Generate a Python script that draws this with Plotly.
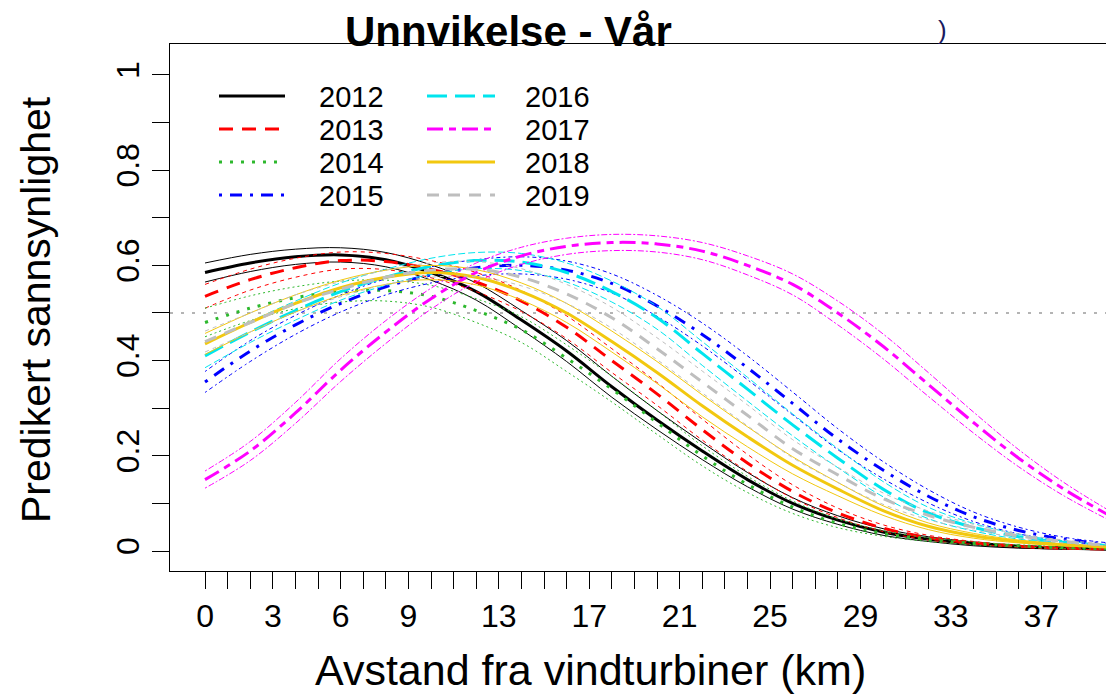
import plotly.graph_objects as go

# ---------------- data ----------------
distance_km = [0, 2, 4, 6, 8, 10, 12, 14, 16, 18, 20, 22, 24, 26, 28, 30, 32, 34, 36, 38, 40]
years = ["2012", "2013", "2014", "2015", "2016", "2017", "2018", "2019"]

pred_2012 = [.585, .605, .618, .622, .612, .585, .545, .485, .420, .345, .275, .210, .150, .100, .065, .040, .025, .015, .009, .006, .004]
upper_2012 = [.605, .623, .634, .637, .627, .601, .563, .505, .442, .367, .295, .228, .165, .112, .074, .047, .030, .019, .012, .008, .006]
lower_2012 = [.565, .587, .602, .607, .597, .569, .527, .465, .398, .323, .255, .192, .135, .088, .056, .033, .020, .011, .006, .004, .002]

pred_2013 = [.535, .570, .595, .610, .608, .592, .565, .525, .470, .400, .330, .255, .185, .125, .080, .048, .028, .017, .010, .006, .004]
upper_2013 = [.560, .592, .615, .628, .625, .610, .585, .547, .494, .425, .354, .277, .203, .139, .090, .055, .033, .020, .012, .008, .005]
lower_2013 = [.510, .548, .575, .592, .591, .574, .545, .503, .446, .375, .306, .233, .167, .111, .070, .041, .023, .014, .008, .004, .003]

pred_2014 = [.480, .510, .532, .545, .547, .535, .505, .465, .405, .340, .270, .200, .140, .092, .058, .037, .024, .016, .011, .007, .005]
upper_2014 = [.510, .536, .555, .567, .569, .558, .530, .492, .433, .367, .295, .221, .157, .105, .067, .043, .028, .019, .013, .009, .006]
lower_2014 = [.450, .484, .509, .523, .525, .512, .480, .438, .377, .313, .245, .179, .123, .079, .049, .031, .020, .013, .009, .005, .004]

pred_2015 = [.355, .420, .475, .520, .555, .580, .595, .600, .590, .562, .515, .455, .385, .310, .235, .170, .115, .072, .043, .025, .014]
upper_2015 = [.377, .442, .495, .538, .572, .597, .612, .618, .609, .582, .537, .479, .410, .334, .257, .188, .129, .082, .050, .029, .017]
lower_2015 = [.333, .398, .455, .502, .538, .563, .578, .582, .571, .542, .493, .431, .360, .286, .213, .152, .101, .062, .036, .021, .011]

pred_2016 = [.410, .460, .505, .545, .575, .598, .610, .607, .585, .545, .490, .415, .340, .265, .195, .130, .080, .050, .030, .018, .011]
upper_2016 = [.435, .482, .525, .563, .592, .615, .627, .625, .605, .567, .514, .440, .365, .288, .215, .146, .092, .058, .035, .021, .013]
lower_2016 = [.385, .438, .485, .527, .558, .581, .593, .589, .565, .523, .466, .390, .315, .242, .175, .114, .068, .042, .025, .015, .009]

pred_2017 = [.150, .210, .290, .380, .460, .530, .585, .620, .640, .648, .645, .630, .600, .560, .500, .430, .350, .270, .195, .130, .075]
upper_2017 = [.168, .230, .312, .404, .484, .552, .605, .638, .657, .665, .662, .648, .620, .582, .525, .456, .375, .292, .213, .144, .085]
lower_2017 = [.132, .190, .268, .356, .436, .508, .565, .602, .623, .631, .628, .612, .580, .538, .475, .404, .325, .248, .177, .116, .065]

pred_2018 = [.435, .480, .520, .553, .575, .585, .575, .545, .500, .440, .375, .305, .240, .180, .130, .085, .052, .032, .020, .013, .008]
upper_2018 = [.457, .500, .538, .569, .590, .600, .591, .563, .520, .462, .398, .328, .261, .198, .144, .095, .059, .037, .023, .015, .009]
lower_2018 = [.413, .460, .502, .537, .560, .570, .559, .527, .480, .418, .352, .282, .219, .162, .116, .075, .045, .027, .017, .011, .007]

pred_2019 = [.440, .480, .520, .550, .575, .590, .592, .575, .540, .490, .425, .355, .285, .215, .160, .110, .075, .050, .032, .020, .012]
upper_2019 = [.462, .500, .538, .566, .590, .605, .608, .593, .560, .512, .448, .378, .307, .234, .176, .122, .084, .056, .036, .023, .014]
lower_2019 = [.418, .460, .502, .534, .560, .575, .576, .557, .520, .468, .402, .332, .263, .196, .144, .098, .066, .044, .028, .017, .010]

x_tick_labels = [0, 3, 6, 9, 13, 17, 21, 25, 29, 33, 37]
y_tick_labels = [0, 0.2, 0.4, 0.6, 0.8, 1]
threshold = 0.5

title_text = "Unnvikelse - Vår"
x_title = "Avstand fra vindturbiner (km)"
y_title = "Predikert sannsynlighet"

# ---------------- styles ----------------
colors = ["#000000", "#FF0000", "#2DB82D", "#0000FF", "#00E5EE", "#FF00FF", "#F2C80F", "#BEBEBE"]
dash_main = ["solid", "14px,9px", "3px,8px", "3px,8px,12px,8px", "20px,8px",
             "16px,6px,7px,6px", "solid", "12px,9px"]
dash_ci = ["solid", "4px,4px", "2px,3px", "2px,3px,4px,3px", "7px,3px",
           "2px,2px,6px,2px", "solid", "4px,4px"]

preds = [pred_2012, pred_2013, pred_2014, pred_2015, pred_2016, pred_2017, pred_2018, pred_2019]
uppers = [upper_2012, upper_2013, upper_2014, upper_2015, upper_2016, upper_2017, upper_2018, upper_2019]
lowers = [lower_2012, lower_2013, lower_2014, lower_2015, lower_2016, lower_2017, lower_2018, lower_2019]

FONT = "Liberation Sans, Arial, Helvetica, sans-serif"
OFF = 8  # page body margin: figure starts 8 px right/down of the window corner
W, H = 1114 - OFF, 695 - OFF
L, T = 170 - OFF, 44 - OFF
R = 0
B = H - (571 - OFF)
PW, PH = W - L - R, H - T - B


def px_x(px):
    """reference-window x pixel -> paper coordinate"""
    return (px - OFF - L) / PW


def px_y(py):
    """reference-window y pixel -> paper coordinate"""
    return (H - B - (py - OFF)) / PH


fig = go.Figure()

for i, yr in enumerate(years):
    for arr in (uppers[i], lowers[i]):
        fig.add_trace(go.Scatter(
            x=distance_km, y=arr, mode="lines", line_shape="spline",
            line=dict(color=colors[i], width=1, dash=dash_ci[i]),
            showlegend=False, hoverinfo="skip"))
    fig.add_trace(go.Scatter(
        x=distance_km, y=preds[i], mode="lines", line_shape="spline", name=yr,
        line=dict(color=colors[i], width=3, dash=dash_main[i]),
        showlegend=False))

# horizontal 0.5 reference line
fig.add_shape(type="line", xref="paper", yref="y", x0=0, x1=1, y0=threshold, y1=threshold,
              line=dict(color="#B4B4B4", width=2, dash="3px,8px"), layer="below")

# manual two-column legend (R style, no box)
leg_rows = [96, 129, 162, 195]
for i, yr in enumerate(years):
    col, row = divmod(i, 4)
    x0, x1, xt = (219, 285, 317) if col == 0 else (427, 495, 523)
    yy = leg_rows[row]
    fig.add_shape(type="line", xref="paper", yref="paper",
                  x0=px_x(x0), x1=px_x(x1), y0=px_y(yy), y1=px_y(yy),
                  line=dict(color=colors[i], width=3, dash=dash_main[i]))
    fig.add_annotation(xref="paper", yref="paper", x=px_x(xt), y=px_y(yy + 1),
                       text=yr, showarrow=False, xanchor="left", yanchor="middle",
                       font=dict(family=FONT, size=29, color="#000000"))

# title and axis titles
fig.add_annotation(xref="paper", yref="paper", x=px_x(343), y=px_y(31),
                   text="<b>" + title_text + "</b>", showarrow=False,
                   xanchor="left", yanchor="middle",
                   font=dict(family=FONT, size=42, color="#000000"))
fig.add_annotation(xref="paper", yref="paper", x=px_x(942), y=px_y(30),
                   text=")", showarrow=False, xanchor="center", yanchor="middle",
                   font=dict(family=FONT, size=26, color="#1a1a60"))
fig.add_annotation(xref="paper", yref="paper", x=px_x(590), y=px_y(670),
                   text=x_title, showarrow=False, xanchor="center", yanchor="middle",
                   font=dict(family=FONT, size=43, color="#000000"))
fig.add_annotation(xref="paper", yref="paper", x=px_x(36), y=px_y(310),
                   text=y_title, showarrow=False, xanchor="center", yanchor="middle",
                   textangle=-90,
                   font=dict(family=FONT, size=41, color="#000000"))

x_ticks = list(range(0, 41))
x_text = [str(v) if v in x_tick_labels else "" for v in x_ticks]
y_ticks = [round(v * 0.1, 1) for v in range(0, 11)]
y_text = [(("%g" % v) if any(abs(v - t) < 1e-9 for t in y_tick_labels) else "") for v in y_ticks]

fig.update_layout(
    width=W, height=H,
    margin=dict(l=L, r=R, t=T, b=B, autoexpand=False),
    paper_bgcolor="white", plot_bgcolor="white",
    showlegend=False,
    font=dict(family=FONT, color="#000000"),
    xaxis=dict(range=[-1.55, 40.22], tickmode="array", tickvals=x_ticks, ticktext=x_text,
               ticks="outside", ticklen=17, tickwidth=1, tickcolor="#000000",
               showline=True, linecolor="#000000", linewidth=1, mirror=True,
               showgrid=False, zeroline=False,
               tickfont=dict(family=FONT, size=32, color="#000000")),
    yaxis=dict(range=[-0.042, 1.065], tickmode="array", tickvals=y_ticks, ticktext=y_text,
               ticks="outside", ticklen=17, tickwidth=1, tickcolor="#000000",
               tickangle=-90,
               showline=True, linecolor="#000000", linewidth=1, mirror=False,
               showgrid=False, zeroline=False,
               tickfont=dict(family=FONT, size=32, color="#000000")),
)

fig.write_html("out.html")
